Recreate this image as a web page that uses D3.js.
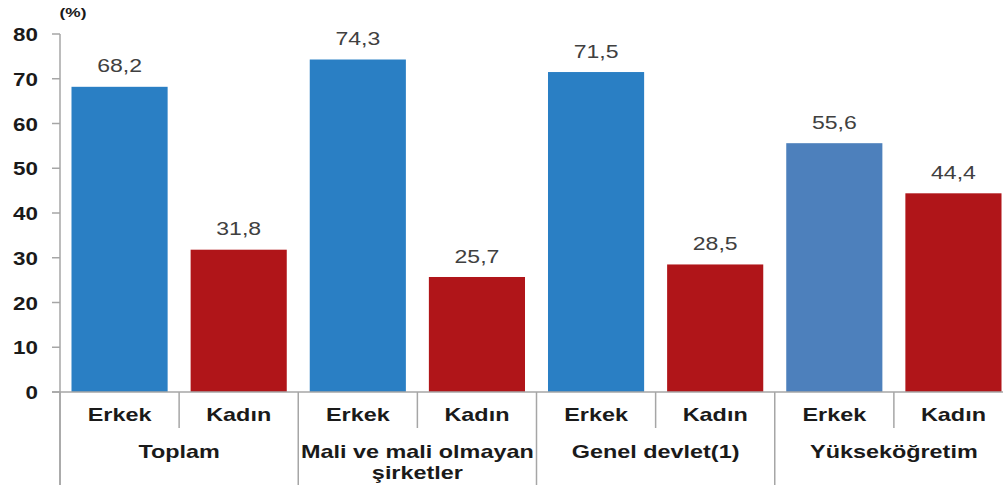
<!DOCTYPE html>
<html><head><meta charset="utf-8">
<script src="https://cdn.jsdelivr.net/npm/d3@7"></script>
<style>body{margin:0;background:#fff}svg{display:block}text{font-family:"Liberation Sans",Arial,sans-serif}</style>
</head><body><svg id="c" width="1003" height="492"></svg>
<script>
const groups = ["Toplam", "Mali ve mali olmayan|şirketler", "Genel devlet(1)", "Yükseköğretim"];
const sexes = ["Erkek", "Kadın"];
const erkek = [68.2, 74.3, 71.5, 55.6];
const kadin = [31.8, 25.7, 28.5, 44.4];
const yTicks = [0, 10, 20, 30, 40, 50, 60, 70, 80];
const unitLabel = "(%)";

const svg = d3.select("#c");
const axisCol = "#a6a6a6";
const y = d3.scaleLinear().domain([0, 80]).range([392, 34]);
const x0 = d3.scaleBand().domain(groups).range([60, 1013]);
const x1 = d3.scaleBand().domain(sexes).range([0, x0.bandwidth()]).paddingInner(0.193).paddingOuter(0.0965);

function stext(sel, tx, ty, str, anchor, sx) {
  return sel.append("text").attr("transform", `translate(${tx},${ty}) scale(${sx || 1.28},1)`)
    .attr("text-anchor", anchor || "middle").attr("dominant-baseline", "central").text(str);
}

const data = [];
groups.forEach((g, i) => {
  data.push({g, s: "Erkek", v: erkek[i], i});
  data.push({g, s: "Kadın", v: kadin[i], i});
});
const color = d => d.s === "Kadın" ? "#b01519" : (d.i === 3 ? "#4d80bc" : "#2a7fc4");

svg.append("g").selectAll("rect").data(data).join("rect")
  .attr("x", d => x0(d.g) + x1(d.s)).attr("width", x1.bandwidth())
  .attr("y", d => y(d.v)).attr("height", d => y(0) - y(d.v)).attr("fill", color);

// value labels
const vl = svg.append("g").attr("fill", "#404040").attr("font-size", 18);
data.forEach(d => stext(vl, x0(d.g) + x1(d.s) + x1.bandwidth() / 2, y(d.v) - 21, d.v.toFixed(1).replace(".", ",")));

// axes
const ax = svg.append("g").attr("stroke", axisCol).attr("stroke-width", 1.5);
ax.append("line").attr("x1", 60).attr("x2", 60).attr("y1", y(80)).attr("y2", 485);
ax.selectAll(".t").data(yTicks).join("line").attr("x1", 52).attr("x2", 60).attr("y1", d => y(d)).attr("y2", d => y(d));
ax.append("line").attr("x1", 52).attr("x2", 1013).attr("y1", y(0)).attr("y2", y(0));
groups.forEach(g => {
  ax.append("line").attr("x1", x0(g)).attr("x2", x0(g)).attr("y1", y(0)).attr("y2", 485);
  ax.append("line").attr("x1", x0(g) + x0.bandwidth() / 2).attr("x2", x0(g) + x0.bandwidth() / 2).attr("y1", y(0)).attr("y2", 428);
});
ax.append("line").attr("x1", 1012).attr("x2", 1012).attr("y1", y(0)).attr("y2", 485);

const tl = svg.append("g").attr("fill", "#1a1a1a").attr("font-size", 17.5).attr("font-weight", "bold");
yTicks.forEach(t => stext(tl, 38, y(t) + 1, t, "end"));
stext(tl, 73, 12, unitLabel).attr("font-size", 13.5);

const cl = svg.append("g").attr("fill", "#1a1a1a").attr("font-size", 18).attr("font-weight", "bold");
groups.forEach(g => {
  sexes.forEach(s => stext(cl, x0(g) + x1(s) + x1.bandwidth() / 2, 415, s, "middle", 1.3));
  g.split("|").forEach((line, k) => stext(cl, x0(g) + x0.bandwidth() / 2, 452 + k * 21, line, "middle", 1.3));
});
</script></body></html>
